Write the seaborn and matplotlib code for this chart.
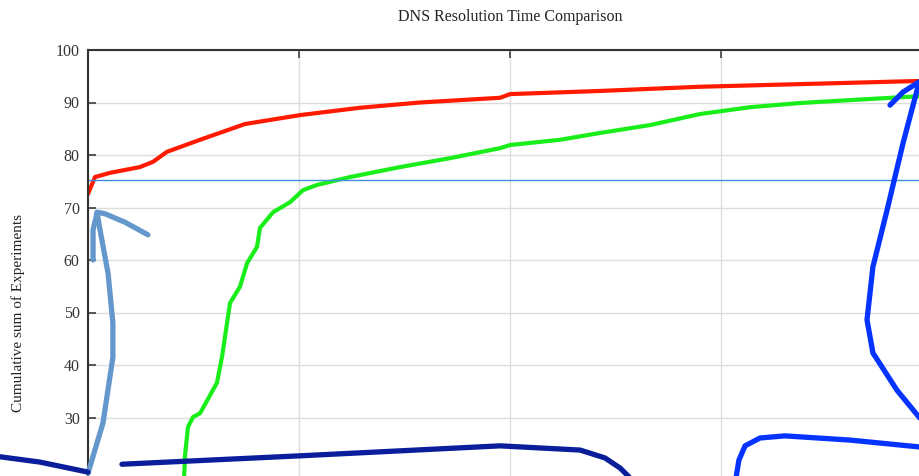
import matplotlib
matplotlib.use("Agg")
import matplotlib.pyplot as plt
import seaborn as sns
import pandas as pd

# resolution time (x) vs cumulative share of experiments (y)
red_x = [0, 3.3, 10.4, 24.6, 30.8, 37.4, 53.1, 74.4, 100.5, 128.9, 157.3, 195.3, 200, 242.7, 290, 337.4, 393.8, 400]
red_y = [72.6, 75.8, 76.6, 77.7, 78.7, 80.6, 82.9, 85.9, 87.6, 89.0, 90.0, 90.9, 91.6, 92.2, 93.0, 93.5, 94.1, 94.2]

green_x = [45.5, 46, 47.4, 49.8, 53.1, 61.1, 63.5, 67.3, 72, 75.4, 80.1, 81.5, 87.7, 95.7, 101.9, 108.5,
           124.2, 147.9, 171.6, 195.3, 200, 223.7, 242.7, 266.4, 290, 313.7, 337.4, 384.8, 400]
green_y = [18.0, 22.9, 28.2, 30.1, 30.8, 36.6, 41.5, 51.8, 54.9, 59.4, 62.5, 66.1, 69.1, 71.0, 73.3, 74.3,
           75.8, 77.7, 79.4, 81.3, 81.9, 82.9, 84.2, 85.7, 87.8, 89.1, 89.9, 91.0, 91.3]

threshold = 75.3
y_ticks = [30, 40, 50, 60, 70, 80, 90, 100]

# hand-drawn annotation strokes on top of the screenshot
arrow_x = [0, 7.1, 11.8, 11.8, 9.5, 5.7, 4.3]
arrow_y = [19.4, 28.95, 41.5, 48.0, 57.5, 65.7, 69.0]
barb_left_x = [4.3, 2.4, 2.4]
barb_left_y = [69.0, 65.7, 60.0]
barb_right_x = [4.3, 8.1, 17.5, 28.4]
barb_right_y = [69.1, 68.8, 67.2, 64.8]
navy1_x = [-45, -22.7, 0]
navy1_y = [22.7, 21.5, 19.6]
navy2_x = [16.1, 100.5, 195.3, 233.2, 245, 252.1, 256.9]
navy2_y = [21.1, 22.7, 24.6, 23.8, 22.3, 20.4, 18.5]
blue1_x = [410, 401.4, 393.8, 383.4, 372.0, 369.2, 372.0, 378.7, 386.3, 393.8, 399]
blue1_y = [24.0, 26.7, 30.1, 35.2, 42.3, 48.6, 58.7, 69.5, 82.3, 93.7, 94.7]
blue_barb_x = [380.1, 386.3, 393.8, 399]
blue_barb_y = [89.5, 92.0, 93.9, 94.7]
blue2_x = [410, 393.8, 361.1, 330.3, 318.5, 311.4, 308.5, 307.1]
blue2_y = [23.6, 24.4, 25.7, 26.5, 26.1, 24.6, 21.9, 18.5]

sns.set_theme(style="whitegrid")
plt.rcParams['font.family'] = ['Liberation Serif', 'DejaVu Serif']

fig = plt.figure(figsize=(9.19, 4.76), dpi=100)
ax = fig.add_axes([88 / 919, -99 / 476, 844 / 919, 525 / 476])

red = pd.DataFrame({"x": red_x, "y": red_y})
green = pd.DataFrame({"x": green_x, "y": green_y})
sns.lineplot(data=red, x="x", y="y", ax=ax, color="#ff1a00", lw=3, sort=False)
sns.lineplot(data=green, x="x", y="y", ax=ax, color="#1aee1a", lw=3, sort=False)
ax.axhline(threshold, color="#3d8fe0", lw=1)

ax.set_xlim(0, 400)
ax.set_ylim(0, 100)
ax.set_xticks([0, 100, 200, 300, 400])
ax.set_xticklabels([])
ax.set_yticks(y_ticks)
ax.grid(True, color="#dddddd", lw=1)
ax.tick_params(axis="y", direction="in", length=6, color="#444444", left=True,
               labelsize=11.5, labelcolor="#333333", pad=6)
ax.tick_params(axis="x", direction="in", length=6, color="#444444", top=True, bottom=False)
for side in ["left", "top"]:
    ax.spines[side].set_color("#333333")
    ax.spines[side].set_linewidth(1.5)
ax.spines["right"].set_visible(False)
ax.spines["bottom"].set_visible(False)
ax.set_xlabel("")
ax.set_ylabel("Cumulative sum of Experiments", fontsize=11, color="#222222", labelpad=22)
ax.set_title("DNS Resolution Time Comparison", fontsize=11.5, color="#222222", pad=21)

strokes = [
    (arrow_x, arrow_y, "#6497cc"), (barb_left_x, barb_left_y, "#6497cc"),
    (barb_right_x, barb_right_y, "#6497cc"),
    (navy1_x, navy1_y, "#0a1e9c"), (navy2_x, navy2_y, "#0a1e9c"),
    (blue1_x, blue1_y, "#0533ff"), (blue_barb_x, blue_barb_y, "#0533ff"),
    (blue2_x, blue2_y, "#0533ff"),
]
for sx, sy, c in strokes:
    ax.plot(sx, sy, color=c, lw=3.8, solid_capstyle="round", solid_joinstyle="round",
            clip_on=False, zorder=5)

fig.savefig("out.png", dpi=100)
